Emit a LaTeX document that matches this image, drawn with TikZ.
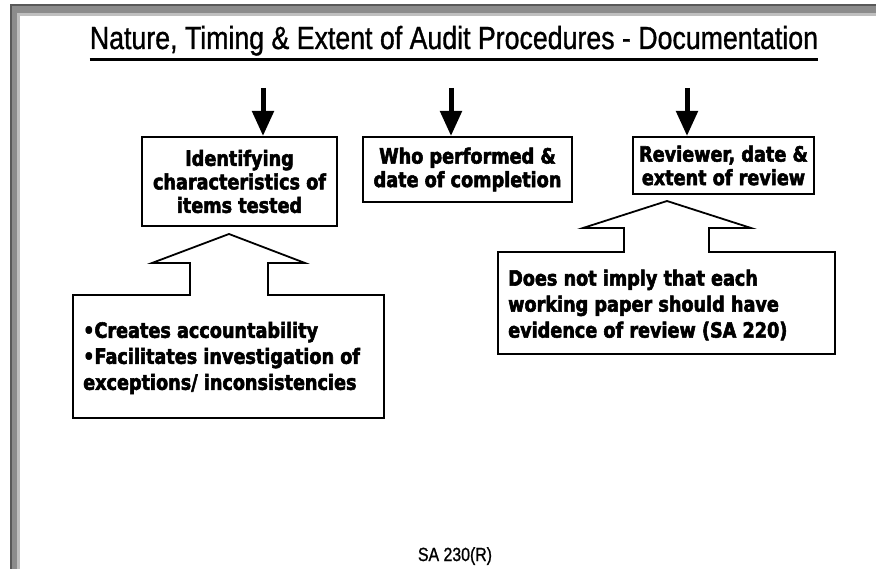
\documentclass[tikz,border=0pt]{standalone}
\usepackage{fontspec}
\setmainfont{Liberation Sans}
\newfontfamily\titlefont[FakeStretch=0.835,FakeBold=1]{Liberation Sans}
\newfontfamily\boxfont[FakeStretch=0.84,FakeBold=2.6]{DejaVu Sans Bold}
\usetikzlibrary{arrows.meta,positioning,calc}
\definecolor{framedark}{gray}{0.35}
\definecolor{framemid}{gray}{0.55}
\definecolor{framelight}{gray}{0.75}

\begin{document}
\begin{tikzpicture}[x=1pt, y=-1pt, >={Triangle[width=21pt,length=25pt]},
        topic/.style={draw=black,line width=2pt,inner sep=0pt,align=center,
          font=\boxfont\fontsize{21}{23.5}\selectfont},
        note/.style={inner sep=0pt,align=left,anchor=west,
          font=\boxfont\fontsize{21}{26}\selectfont},
        callout/.style={draw=black,line width=1.8pt,line join=miter},
        feed/.style={line width=5pt,->}]
        \useasboundingbox (0,0) rectangle (876,569);
        \fill[framemid] (10,4) rectangle (876,16);
        \fill[framemid] (10,4) rectangle (20,569);
        \fill[framelight] (17,13) rectangle (876,16);
        \fill[framelight] (17,13) rectangle (20,569);
        \fill[framedark] (10,4) rectangle (876,6);
        \fill[framedark] (10,4) rectangle (12,569);
        \node[font=\titlefont\fontsize{32}{36}\selectfont,inner sep=0pt,anchor=base] at (454,49) (title)
          {Nature, Timing \& Extent of Audit Procedures - Documentation};
        \draw[line width=2.4pt] ([yshift=-10.5pt]title.base west) -- ([yshift=-10.5pt]title.base east);
        \node[topic,minimum width=195pt,minimum height=89pt] at (239.5,181.5) (items)
          {Identifying\\characteristics of\\items tested};
        \node[topic,minimum width=209pt,minimum height=65pt] at (467.5,169.5) (who)
          {Who performed \&\\date of completion};
        \node[topic,minimum width=181pt,minimum height=57pt] at (723.5,165.5) (reviewer)
          {Reviewer, date \&\\extent of review};
        \coordinate (a1) at (263,88);
        \coordinate (a2) at (451,88);
        \coordinate (a3) at (687,88);
        \draw[feed] (a1) -- (a1 |- items.north);
        \draw[feed] (a2) -- (a2 |- who.north);
        \draw[feed] (a3) -- (a3 |- reviewer.north);
        \draw[callout] (73,295) -- (190,295) -- (190,263) -- (152,263) -- (229,234) -- (305,263)
          -- (268,263) -- (268,295) -- (384,295) -- (384,418) -- (73,418) -- cycle;
        \node[note] at (83,358) (acct)
          {•Creates accountability\\•Facilitates investigation of\\exceptions/ inconsistencies};
        \draw[callout] (498,252) -- (624,252) -- (624,228) -- (583,228) -- (667,201) -- (751,228)
          -- (709,228) -- (709,252) -- (835,252) -- (835,354) -- (498,354) -- cycle;
        \node[note] at (508,305) (review)
          {Does not imply that each\\working paper should have\\evidence of review (SA 220)};
        \node[font=\titlefont\fontsize{19}{22}\selectfont,inner sep=0pt,anchor=base] at (455,561) (sa)
          {SA 230(R)};
      \end{tikzpicture}
\end{document}
